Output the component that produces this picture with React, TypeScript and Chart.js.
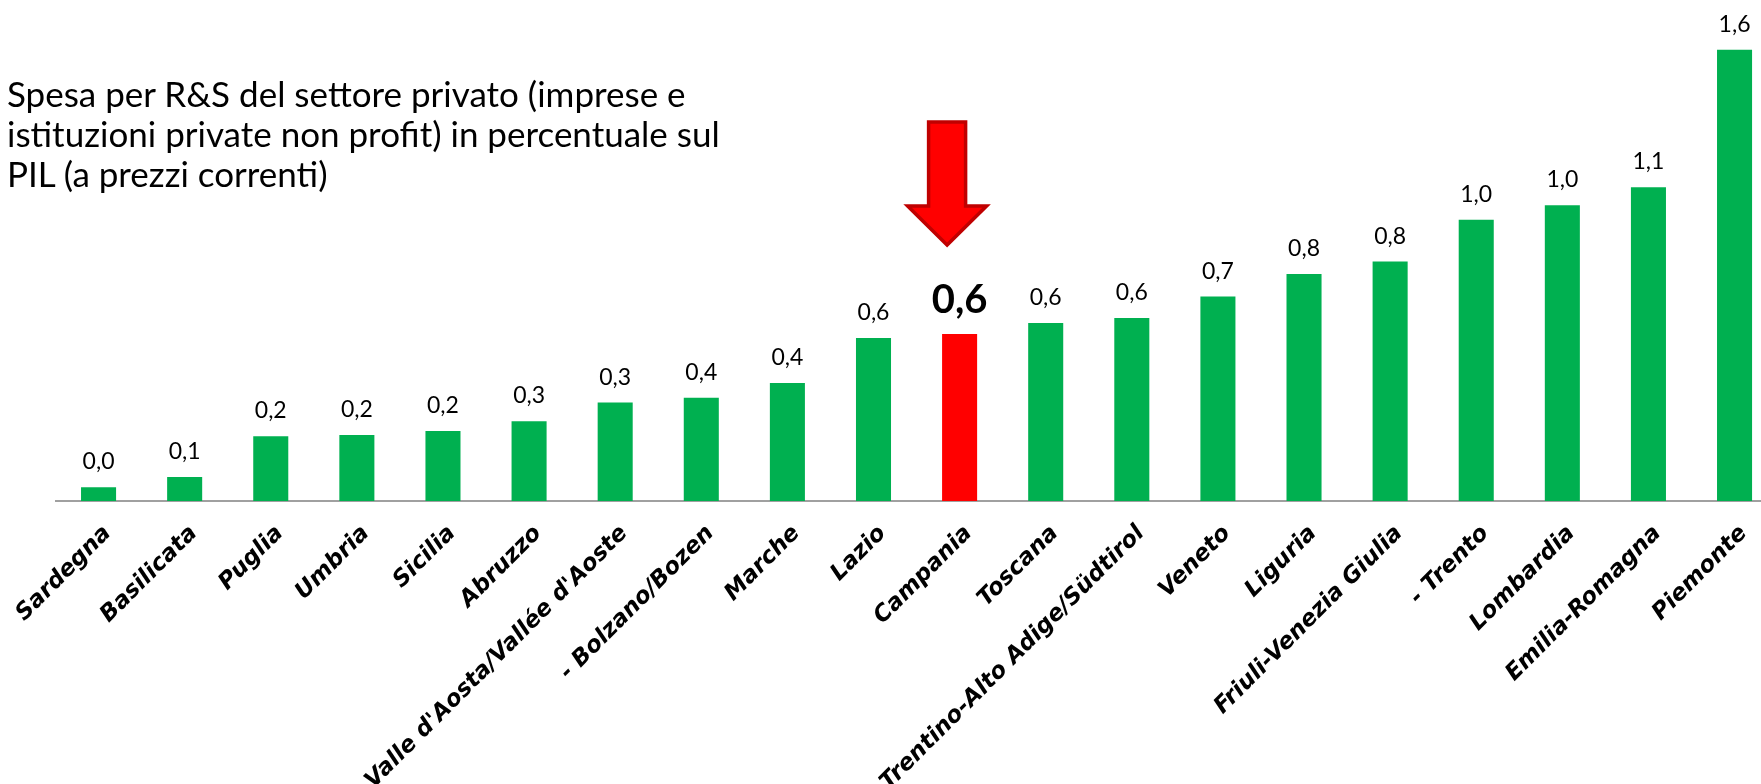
import React, { useEffect, useRef } from "react";
import { Chart, registerables } from "chart.js";

Chart.register(...registerables);

const regions: string[] = [
  "Sardegna",
  "Basilicata",
  "Puglia",
  "Umbria",
  "Sicilia",
  "Abruzzo",
  "Valle d'Aosta/Vallée d'Aoste",
  "- Bolzano/Bozen",
  "Marche",
  "Lazio",
  "Campania",
  "Toscana",
  "Trentino-Alto Adige/Südtirol",
  "Veneto",
  "Liguria",
  "Friuli-Venezia Giulia",
  "- Trento",
  "Lombardia",
  "Emilia-Romagna",
  "Piemonte",
];

const values: number[] = [
  0.049, 0.085, 0.23, 0.234, 0.248, 0.283, 0.349, 0.366, 0.418, 0.578,
  0.592, 0.631, 0.649, 0.725, 0.805, 0.849, 0.997, 1.049, 1.113, 1.6,
];

const highlighted = "Campania";

const subtitleLines: string[] = [
  "Spesa per R&S del settore privato (imprese e",
  "istituzioni private non profit) in percentuale sul",
  "PIL (a prezzi correnti)",
];

const GREEN = "#00B050";
const RED = "#FF0000";

const fmt = (v: number) => v.toFixed(1).replace(".", ",");

const valueLabels = {
  id: "valueLabels",
  afterDatasetsDraw(chart: any) {
    const ctx = chart.ctx;
    const meta = chart.getDatasetMeta(0);
    meta.data.forEach((bar: any, i: number) => {
      const hl = regions[i] === highlighted;
      ctx.save();
      ctx.font = hl ? "bold 40px Lato" : "23px Lato";
      ctx.fillStyle = "#000";
      ctx.textAlign = "center";
      ctx.textBaseline = "alphabetic";
      ctx.fillText(fmt(values[i]), bar.x, bar.y - (hl ? 21 : 18));
      ctx.restore();
    });
  },
};

const arrowPlugin = {
  id: "arrowPlugin",
  afterDraw(chart: any) {
    const idx = regions.indexOf(highlighted);
    if (idx < 0) return;
    const bar = chart.getDatasetMeta(0).data[idx];
    const ctx = chart.ctx;
    const cx = bar.x - 12.5;
    const tip = bar.y - 89;
    const shaftHalf = 18.5;
    const headHalf = 39.5;
    const headBase = tip - 39;
    const top = tip - 123;
    ctx.save();
    ctx.beginPath();
    ctx.moveTo(cx - shaftHalf, top);
    ctx.lineTo(cx + shaftHalf, top);
    ctx.lineTo(cx + shaftHalf, headBase);
    ctx.lineTo(cx + headHalf, headBase);
    ctx.lineTo(cx, tip);
    ctx.lineTo(cx - headHalf, headBase);
    ctx.lineTo(cx - shaftHalf, headBase);
    ctx.closePath();
    ctx.fillStyle = RED;
    ctx.fill();
    ctx.lineWidth = 3.5;
    ctx.strokeStyle = "#C00000";
    ctx.lineJoin = "miter";
    ctx.stroke();
    ctx.restore();
  },
};

export default function App() {
  const canvasRef = useRef<HTMLCanvasElement | null>(null);

  useEffect(() => {
    if (!canvasRef.current) return;
    const chart = new Chart(canvasRef.current, {
      type: "bar",
      data: {
        labels: regions,
        datasets: [
          {
            data: values,
            backgroundColor: regions.map((r) => (r === highlighted ? RED : GREEN)),
            categoryPercentage: 1,
            barPercentage: 0.407,
          },
        ],
      },
      options: {
        animation: false,
        responsive: true,
        maintainAspectRatio: false,
        layout: { padding: { left: 55.5, right: 2.4, top: 21.6, bottom: 0 } },
        plugins: {
          legend: { display: false },
          title: { display: false },
          tooltip: { enabled: false },
        },
        scales: {
          x: {
            grid: { display: false, drawTicks: false },
            border: { display: true, color: "#A0A0A0", width: 2 },
            ticks: {
              autoSkip: false,
              minRotation: 45,
              maxRotation: 45,
              color: "#000",
              padding: 19,
              labelOffset: 9,
              font: { family: "DejaVu Sans", size: 23, weight: "bold", style: "italic" },
            },
            afterFit: (scale: any) => {
              scale.height = 283;
              scale.paddingLeft = 0;
              scale.paddingRight = 0;
            },
          },
          y: { display: false, min: 0, max: 1.7 },
        },
      },
      plugins: [valueLabels, arrowPlugin],
    } as any);
    return () => chart.destroy();
  }, []);

  return (
    <div
      style={{
        position: "fixed",
        left: 0,
        top: 0,
        width: 1761,
        height: 784,
        overflow: "hidden",
        background: "#fff",
      }}
    >
      <div style={{ position: "absolute", left: 0, top: 0, width: 1780, height: 784 }}>
        <canvas ref={canvasRef} />
      </div>
      <div
        style={{
          position: "absolute",
          left: 7,
          top: 73,
          fontFamily: "Lato",
          fontSize: 35,
          lineHeight: "40px",
          color: "#000",
          whiteSpace: "nowrap",
          pointerEvents: "none",
        }}
      >
        {subtitleLines.map((l, i) => (
          <div key={i}>{l}</div>
        ))}
      </div>
    </div>
  );
}
